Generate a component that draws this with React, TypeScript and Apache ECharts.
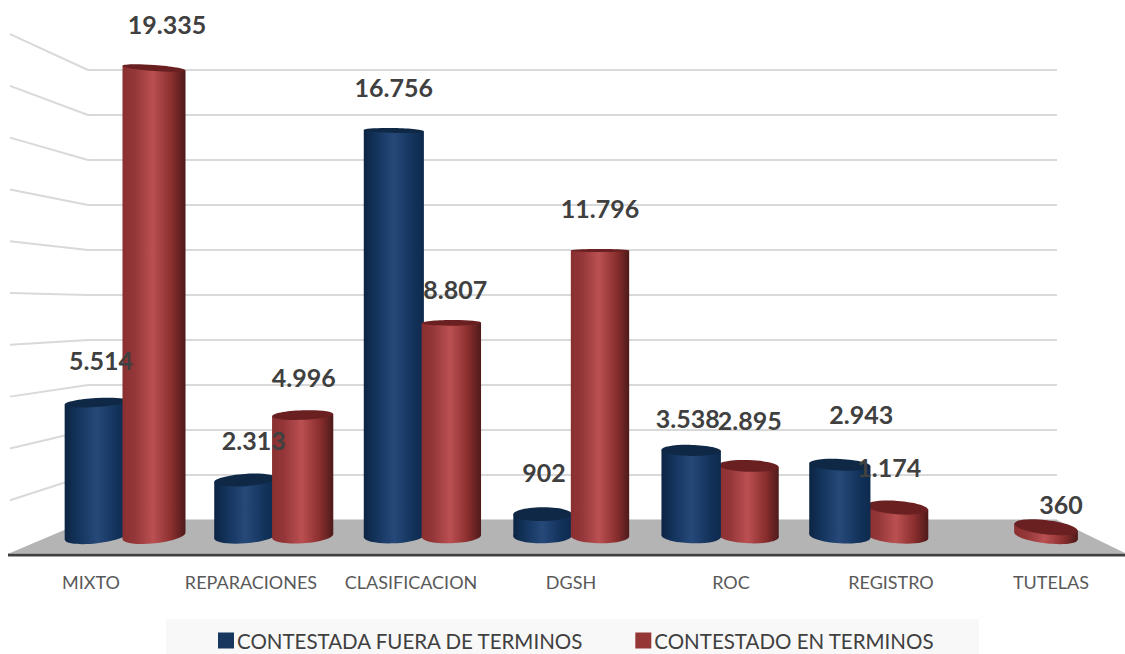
import React, { useEffect, useRef } from "react";
import * as echarts from "echarts";

const CATEGORIES = ["MIXTO", "REPARACIONES", "CLASIFICACION", "DGSH", "ROC", "REGISTRO", "TUTELAS"];
const FUERA = [5514, 2313, 16756, 902, 3538, 2943, null];
const EN_TERMINOS = [19335, 4996, 8807, 11796, 2895, 1174, 360];
const WALL_TICKS = [0, 2000, 4000, 6000, 8000, 10000, 12000, 14000, 16000, 18000, 20000];

const FUERA_NAME = "CONTESTADA FUERA DE TERMINOS";
const EN_NAME = "CONTESTADO EN TERMINOS";

const FUERA_LABEL_DX = [4.5, 8.5, 0, 1.5, -3.5, 21.5, 0];
const FUERA_LABEL_DY = [-43, -40, -44, -42, -32, -50.5, 0];
const EN_LABEL_DX = [13, 1, 4, 0, 1, -8, 15];
const EN_LABEL_DY = [-44, -38, -34, -43, -46, -41, -23];

const fmt = (v: number) => String(v).replace(/\B(?=(\d{3})+$)/, ".");

const BLUE = {
  cap: "#0f2845",
  stops: [
    [0, "#0c2442"],
    [0.18, "#12325a"],
    [0.5, "#26497a"],
    [0.82, "#12325a"],
    [1, "#0e2a4e"],
  ],
};
const RED = {
  cap: "#6a2021",
  stops: [
    [0, "#8a2f30"],
    [0.2, "#95373a"],
    [0.48, "#bb5052"],
    [0.78, "#8a2e2e"],
    [1, "#4e1a1a"],
  ],
};

const gradient = (stops: number[][]) =>
  new echarts.graphic.LinearGradient(
    0,
    0,
    1,
    0,
    stops.map(([offset, color]) => ({ offset, color }))
  );

const capRy = (y: number) => (y < 260 ? 1.5 + (260 - y) * 0.008 : 1.5 + (y - 260) * 0.021);
const capSlope = (y: number, cx: number) => 0.9e-6 * (y - 260) * (cx - 571);

function cylinder(
  palette: typeof BLUE,
  shift: number,
  dxs: number[],
  dys: number[],
  onTopFrom: (i: number) => boolean
) {
  return (params: any, api: any) => {
    const i = api.value(0);
    const v = api.value(1);
    if (v == null || isNaN(v)) return null;
    const [catX, top] = api.coord([i, v]);
    const [, base] = api.coord([i, 0]);
    const cx = catX + shift;
    const hw = 29 + Math.abs(cx - 571) * 0.006;
    const z = onTopFrom(i) ? 20 : 10;
    const st = capSlope(top, cx);
    const sb = capSlope(base, cx);
    const fill = gradient(palette.stops);
    return {
      type: "group",
      children: [
        {
          type: "ellipse",
          x: cx,
          y: base,
          rotation: -Math.atan(sb),
          shape: { cx: 0, cy: 0, rx: hw, ry: capRy(base) },
          style: { fill },
          z2: z,
        },
        {
          type: "polygon",
          shape: {
            points: [
              [cx - hw, top - hw * st],
              [cx + hw, top + hw * st],
              [cx + hw, base + hw * sb],
              [cx - hw, base - hw * sb],
            ],
          },
          style: { fill },
          z2: z,
        },
        {
          type: "ellipse",
          x: cx,
          y: top,
          rotation: -Math.atan(st),
          shape: { cx: 0, cy: 0, rx: hw, ry: capRy(top) },
          style: { fill: palette.cap },
          z2: z + 1,
        },
        {
          type: "text",
          x: cx + dxs[i],
          y: top + dys[i],
          style: {
            text: fmt(v),
            fill: "#404040",
            font: "bold 25px Lato",
            textAlign: "center",
            textVerticalAlign: "middle",
          },
          z2: 100,
        },
      ],
    };
  };
}

function wall(params: any, api: any) {
  const v = api.value(0);
  const [x, y] = api.coord([0, v]);
  const [xr] = api.coord([1, v]);
  const frontY = 553;
  const children: any[] = [];
  const [, floorY] = api.coord([0, 0]);
  const leftY = frontY - (floorY - y) * 1.151 - 1;
  if (v === 0) {
    children.push({
      type: "polygon",
      shape: { points: [[x, y], [xr, y], [xr + 68, frontY], [x - 78, frontY]] },
      style: { fill: "#b4b4b4" },
    });
    children.push({
      type: "line",
      shape: { x1: 8, y1: frontY + 2, x2: 1125, y2: frontY + 2 },
      style: { stroke: "#404040", lineWidth: 3 },
    });
  } else {
    children.push({
      type: "line",
      shape: { x1: x, y1: y, x2: x - 78, y2: leftY },
      style: { stroke: "#d9d9d9", lineWidth: 2 },
    });
  }
  return { type: "group", children };
}

export default function App() {
  const ref = useRef<HTMLDivElement>(null);
  useEffect(() => {
    const chart = echarts.init(ref.current!, undefined, { renderer: "svg" });
    chart.setOption({
      animation: false,
      backgroundColor: "#ffffff",
      grid: [
        { left: 88, top: 70, width: 969, height: 450 },
        { left: 50.67, top: 52, width: 1040.67, height: 484 },
        { left: 91, top: 555, width: 960, height: 1 },
      ],
      xAxis: [
        { gridIndex: 0, type: "value", min: 0, max: 1, show: false },
        { gridIndex: 1, type: "category", data: CATEGORIES, show: false },
        {
          gridIndex: 2,
          type: "category",
          data: CATEGORIES,
          boundaryGap: false,
          axisLine: { show: false },
          axisTick: { show: false },
          axisLabel: { color: "#595959", fontFamily: "Lato", fontSize: 18, margin: 17, interval: 0 },
        },
      ],
      yAxis: [
        {
          gridIndex: 0,
          type: "value",
          min: 0,
          max: 20000,
          interval: 2000,
          axisLine: { show: false },
          axisTick: { show: false },
          axisLabel: { show: false },
          splitLine: { show: true, lineStyle: { color: "#d9d9d9", width: 2 } },
        },
        { gridIndex: 1, type: "value", min: 0, max: 20000, show: false },
        { gridIndex: 2, type: "value", min: 0, max: 1, show: false },
      ],
      legend: {
        left: 166,
        top: 619,
        backgroundColor: "#f8f8f8",
        padding: [11, 45, 11, 52],
        itemGap: 51,
        itemWidth: 16,
        itemHeight: 16,
        icon: "rect",
        selectedMode: false,
        data: [FUERA_NAME, EN_NAME],
        textStyle: { color: "#404040", fontFamily: "Lato", fontSize: 20.5, padding: [0, 0, 0, -2] },
      },
      series: [
        {
          type: "custom",
          name: "wall",
          xAxisIndex: 0,
          yAxisIndex: 0,
          z: 1,
          silent: true,
          data: WALL_TICKS.map((v) => [v]),
          encode: { y: 0 },
          renderItem: wall,
        },
        {
          type: "custom",
          name: FUERA_NAME,
          xAxisIndex: 1,
          yAxisIndex: 1,
          z: 2,
          itemStyle: { color: "#17375e", borderColor: "#0f2845" },
          data: FUERA.map((v, i) => [i, v]),
          encode: { x: 0, y: 1 },
          renderItem: cylinder(BLUE, -28.5, FUERA_LABEL_DX, FUERA_LABEL_DY, (i) => i >= 4),
        },
        {
          type: "custom",
          name: EN_NAME,
          xAxisIndex: 1,
          yAxisIndex: 1,
          z: 2,
          itemStyle: { color: "#953735", borderColor: "#6a2021" },
          data: EN_TERMINOS.map((v, i) => [i, v]),
          encode: { x: 0, y: 1 },
          renderItem: cylinder(RED, 29, EN_LABEL_DX, EN_LABEL_DY, (i) => i < 4),
        },
      ],
    });
    return () => chart.dispose();
  }, []);
  return <div ref={ref} style={{ position: "absolute", left: 0, top: 0, width: 1125, height: 654 }} />;
}
